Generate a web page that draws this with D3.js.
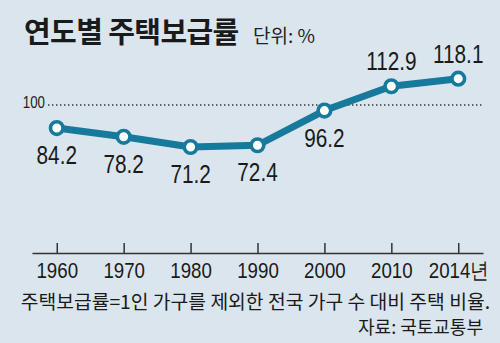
<!DOCTYPE html>
<html><head><meta charset="utf-8">
<script src="https://cdn.jsdelivr.net/npm/d3@7"></script>
<style>
html,body{margin:0;padding:0;background:#dbe5ee;}
svg{display:block;}
</style></head>
<body>
<svg id="c" width="500" height="343"></svg>
<script>
const years = ["1960","1970","1980","1990","2000","2010","2014"];
const rates = [84.2, 78.2, 71.2, 72.4, 96.2, 112.9, 118.1];
const refValue = 100;
const title = "연도별 주택보급률";
const unitText = "단위: %";
const note = "주택보급률=1인 가구를 제외한 전국 가구 수 대비 주택 비율.";
const source = "자료: 국토교통부";

const numFont = "'Liberation Sans',Arial,sans-serif";
const krFont = "'Noto Sans CJK KR','Noto Sans',sans-serif";
const lineColor = "#17799c";
const cond = 0.83;

const svg = d3.select("#c");
svg.append("rect").attr("width",500).attr("height",343).attr("fill","#dbe5ee");

const x = d3.scalePoint().domain(years).range([32,483]).padding(0.37);
const y = d3.scaleLinear().domain([60,120]).range([163.3,75.9]);

// title
svg.append("text").attr("x",24).attr("y",43)
  .attr("font-family",krFont).attr("font-weight","bold").attr("font-size",29)
  .attr("fill","#1a1a1a").attr("letter-spacing",-0.6).text(title);
svg.append("text").attr("x",253).attr("y",43)
  .attr("font-family",krFont).attr("font-size",19)
  .attr("fill","#222").text(unitText);

// reference line at 100
svg.append("line").attr("x1",48).attr("x2",483)
  .attr("y1",y(refValue)).attr("y2",y(refValue))
  .attr("stroke","#333").attr("stroke-width",1.4).attr("stroke-dasharray","1.4,2.6");
svg.append("text")
  .attr("transform",`translate(45,${y(refValue)+3}) scale(${cond},1)`)
  .attr("text-anchor","end").attr("font-family",numFont).attr("font-size",16)
  .attr("fill","#222").text(refValue);

// axis
const axis = d3.axisBottom(x).tickSizeInner(-10).tickSizeOuter(0).tickPadding(9.5)
  .tickFormat((d,i)=> i===years.length-1 ? d+"년" : d);
const g = svg.append("g").attr("transform","translate(0,253)").call(axis);
g.select(".domain").attr("stroke","#333").attr("stroke-width",1.5);
g.selectAll(".tick line").attr("stroke","#333").attr("stroke-width",1.5);
g.selectAll(".tick text").attr("font-family",numFont).attr("font-size",22).attr("fill","#1a1a1a")
  .attr("transform",`scale(0.85,1)`);

// line
const data = years.map((yr,i)=>({yr, v:rates[i]}));
svg.append("path").datum(data)
  .attr("d", d3.line().x(d=>x(d.yr)).y(d=>y(d.v)))
  .attr("fill","none").attr("stroke",lineColor).attr("stroke-width",7)
  .attr("stroke-linejoin","round");
svg.selectAll("circle.pt").data(data).join("circle")
  .attr("cx",d=>x(d.yr)).attr("cy",d=>y(d.v)).attr("r",6.3)
  .attr("fill","#fff").attr("stroke",lineColor).attr("stroke-width",3.6);

// value labels
svg.selectAll("text.val").data(data).join("text")
  .attr("class","val")
  .attr("transform",d=>`translate(${x(d.yr)},${d.v>refValue ? y(d.v)-16 : y(d.v)+36}) scale(${cond},1)`)
  .attr("text-anchor","middle").attr("font-family",numFont).attr("font-size",25)
  .attr("fill","#1a1a1a").text(d=>d.v.toFixed(1));

// footnotes
svg.append("text").attr("x",490).attr("y",309)
  .attr("text-anchor","end").attr("font-family",krFont).attr("font-size",19.3)
  .attr("fill","#1a1a1a").text(note);
svg.append("text").attr("x",483).attr("y",334)
  .attr("text-anchor","end").attr("font-family",krFont).attr("font-size",18)
  .attr("fill","#1a1a1a").text(source);
</script>
</body></html>
